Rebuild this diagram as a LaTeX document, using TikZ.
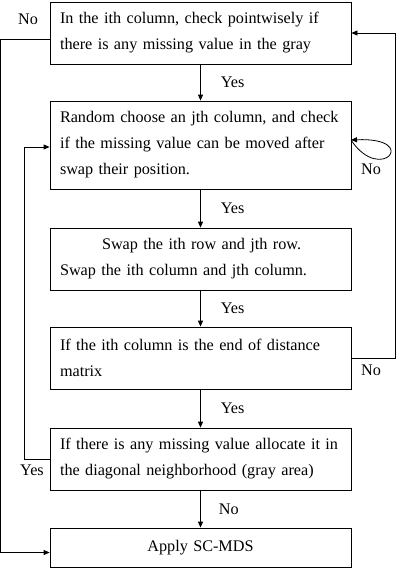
\documentclass[tikz,border=0pt]{standalone}
\usepackage{fontspec}
\setmainfont{Liberation Serif}
\usetikzlibrary{arrows.meta}
\begin{document}
\begin{tikzpicture}[x=1pt,y=-1pt,>={Triangle[length=6pt,width=5pt]},line width=0.8pt,
	font=\fontsize{16.2}{26}\selectfont,
	box/.style={draw,minimum width=301pt,minimum height=62pt,text width=281pt,align=left,inner sep=0pt},
	lbl/.style={inner sep=1pt}]
	\useasboundingbox (0,0) rectangle (400,574);
	% boxes
	\node[box] (check) at (200.5,33) {In the ith column, check pointwisely if\\there is any missing value in the gray};
	\node[box,minimum height=88pt] (choose) at (200.5,145) {Random choose an jth column, and check\\if the missing value can be moved after\\swap their position.};
	\node[box] (swap) at (200.5,259) {\hspace*{42pt}Swap the ith row and jth row.\\Swap the ith column and jth column.};
	\node[box] (dist) at (200.5,358) {If the ith column is the end of distance\\matrix};
	\node[box] (alloc) at (200.5,459) {If there is any missing value allocate it in\\the diagonal neighborhood (gray area)};
	\node[box,minimum height=39pt,align=center] (apply) at (200.5,547.5) {Apply SC-MDS};
	% straight arrows
	\draw[->] (check) -- (choose) node[midway,right=19pt,lbl]{Yes};
	\draw[->] (choose) -- (swap) node[midway,right=19pt,lbl]{Yes};
	\draw[->] (swap) -- (dist) node[midway,right=19pt,lbl]{Yes};
	\draw[->] (dist) -- (alloc) node[midway,right=19pt,lbl]{Yes};
	\draw[->] (alloc) -- (apply) node[midway,right=17pt,lbl]{No};
	% loops
	\coordinate (selfloop) at (351,140);
	\draw[->] (selfloop) .. controls +(30,45) and +(70,-3) .. (selfloop);
	\node[lbl] at (371,169) {No};
	\draw[->] (dist.east) -- ++(44,0) |- (check.east);
	\node[lbl] at (371,370) {No};
	\draw[->] (alloc.west) -- ++(-25,0) |- ([yshift=-2pt]choose.west);
	\node[lbl] at (32,470) {Yes};
	\draw[->] ([yshift=-6pt]check.west) -- ++(-49.5,0) |- ([yshift=-5pt]apply.west);
	\node[lbl] at (28,19) {No};
\end{tikzpicture}
\end{document}
